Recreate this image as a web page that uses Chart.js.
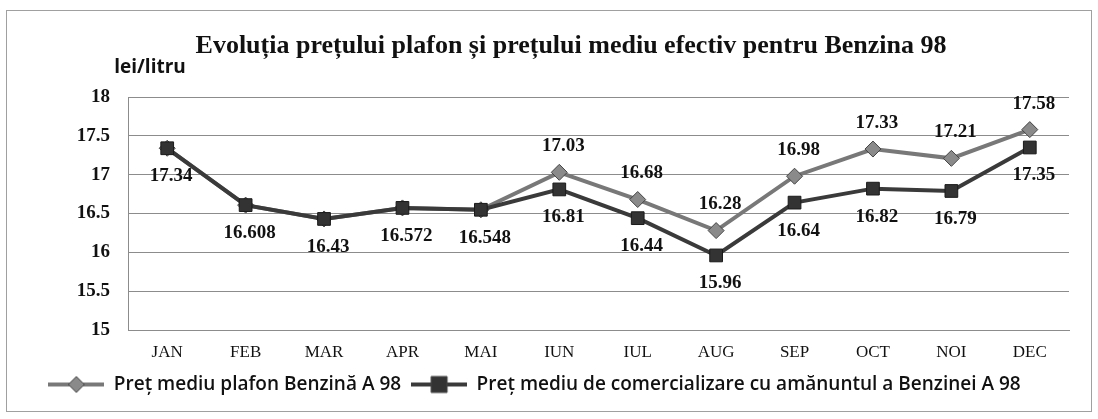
<!DOCTYPE html>
<html>
<head>
<meta charset="utf-8">
<title>Benzina 98</title>
<script src="https://cdn.jsdelivr.net/npm/chart.js@4.4.0/dist/chart.umd.min.js"></script>
<style>
    body { margin: 0; background: #fff; }
</style>
</head>
<body>
<canvas id="myChart" width="1098" height="419"></canvas>
<script>
var luni = ['JAN', 'FEB', 'MAR', 'APR', 'MAI', 'IUN', 'IUL', 'AUG', 'SEP', 'OCT', 'NOI', 'DEC'];
var pretPlafon = [17.34, 16.608, 16.43, 16.572, 16.548, 17.03, 16.68, 16.28, 16.98, 17.33, 17.21, 17.58];
var pretMediu = [17.34, 16.608, 16.43, 16.572, 16.548, 16.81, 16.44, 15.96, 16.64, 16.82, 16.79, 17.35];
var yTicks = [15, 15.5, 16, 16.5, 17, 17.5, 18];
var titlu = 'Evoluția prețului plafon și prețului mediu efectiv pentru Benzina 98';
var unitate = 'lei/litru';
var numeSerii = ['Preț mediu plafon Benzină A 98', 'Preț mediu de comercializare cu amănuntul a Benzinei A 98'];

// mic simbol pentru legenda: linie + marker
function simbolLegenda(culoareLinie, culoareMarker, romb) {
    var c = document.createElement('canvas');
    c.width = 56;
    c.height = 20;
    var g = c.getContext('2d');
    g.strokeStyle = culoareLinie;
    g.lineWidth = 4;
    g.beginPath();
    g.moveTo(0, 10);
    g.lineTo(56, 10);
    g.stroke();
    g.fillStyle = culoareMarker;
    g.strokeStyle = '#444';
    g.lineWidth = 1;
    g.beginPath();
    if (romb) {
        g.moveTo(28, 2);
        g.lineTo(36, 10);
        g.lineTo(28, 18);
        g.lineTo(20, 10);
        g.closePath();
    } else {
        g.rect(20, 2, 16, 16);
    }
    g.fill();
    g.stroke();
    return c;
}
var simboluri = [simbolLegenda('#787878', '#8a8a8a', true), simbolLegenda('#3a3a3a', '#333', false)];

var eticheteValori = {
    id: 'eticheteValori',
    afterDatasetsDraw: function (chart) {
        var ctx = chart.ctx;
        ctx.save();
        ctx.font = 'bold 19px "Liberation Serif"';
        ctx.fillStyle = '#111';
        ctx.textAlign = 'center';
        ctx.textBaseline = 'middle';
        chart.getDatasetMeta(1).data.forEach(function (p, i) {
            ctx.fillText(String(pretMediu[i]), p.x + 4, p.y + 28);
        });
        chart.getDatasetMeta(0).data.forEach(function (p, i) {
            if (pretPlafon[i] !== pretMediu[i]) {
                ctx.fillText(String(pretPlafon[i]), p.x + 4, p.y - 26);
            }
        });
        ctx.restore();
    },
    afterDraw: function (chart) {
        var ctx = chart.ctx;
        var a = chart.chartArea;
        ctx.save();
        ctx.fillStyle = '#111';
        ctx.textAlign = 'center';
        ctx.textBaseline = 'middle';
        ctx.font = 'bold 26px "Liberation Serif"';
        ctx.fillText(titlu, 571, 46);
        ctx.font = 'bold 19px "Open Sans"';
        ctx.fillText(unitate, a.left + 22, a.top - 29);
        ctx.strokeStyle = '#a0a0a0';
        ctx.lineWidth = 1;
        ctx.strokeRect(6.5, 10.5, 1085, 401);
        ctx.restore();
    }
};

var ctx = document.getElementById('myChart').getContext('2d');
var myChart = new Chart(ctx, {
    type: 'line',
    data: {
        labels: luni,
        datasets: [{
                label: numeSerii[0],
                data: pretPlafon,
                order: 1,
                borderColor: '#787878',
                borderWidth: 4,
                pointStyle: 'rectRot',
                pointRadius: 8,
                pointBackgroundColor: '#8a8a8a',
                pointBorderColor: '#444',
                pointBorderWidth: 1
            }, {
                label: numeSerii[1],
                data: pretMediu,
                order: 0,
                borderColor: '#3a3a3a',
                borderWidth: 4,
                pointStyle: 'rect',
                pointRadius: 9,
                pointBackgroundColor: '#333',
                pointBorderColor: '#1a1a1a',
                pointBorderWidth: 1
            }]
    },
    options: {
        responsive: false,
        animation: false,
        events: [],
        devicePixelRatio: 1,
        layout: {
            padding: {top: 97, right: 29, bottom: 15, left: 0}
        },
        scales: {
            x: {
                offset: true,
                grid: {display: false, drawTicks: false, tickLength: 0},
                border: {display: true, color: '#8c8c8c'},
                ticks: {
                    color: '#111',
                    padding: 12,
                    font: {family: 'Liberation Serif', size: 17}
                },
                afterFit: function (scale) {
                    scale.height = 35;
                }
            },
            y: {
                min: 15,
                max: 18,
                grid: {color: '#8c8c8c', drawTicks: false, tickLength: 0},
                border: {display: true, color: '#8c8c8c'},
                ticks: {
                    color: '#111',
                    padding: 18,
                    font: {family: 'Liberation Serif', size: 19, weight: 'bold'},
                    callback: function (value) {
                        return String(value);
                    }
                },
                afterBuildTicks: function (scale) {
                    scale.ticks = yTicks.map(function (v) {
                        return {value: v};
                    });
                },
                afterFit: function (scale) {
                    scale.width = 128;
                }
            }
        },
        plugins: {
            title: {display: false},
            tooltip: {enabled: false},
            legend: {
                position: 'bottom',
                labels: {
                    color: '#111',
                    padding: 10,
                    usePointStyle: true,
                    pointStyleWidth: 56,
                    font: {family: 'Open Sans', size: 19, weight: '600'},
                    sort: function (a, b) {
                        return a.datasetIndex - b.datasetIndex;
                    },
                    generateLabels: function (chart) {
                        var items = Chart.defaults.plugins.legend.labels.generateLabels(chart);
                        items.forEach(function (it) {
                            it.pointStyle = simboluri[it.datasetIndex];
                        });
                        return items;
                    }
                }
            }
        }
    },
    plugins: [eticheteValori]
});
</script>
</body>
</html>
